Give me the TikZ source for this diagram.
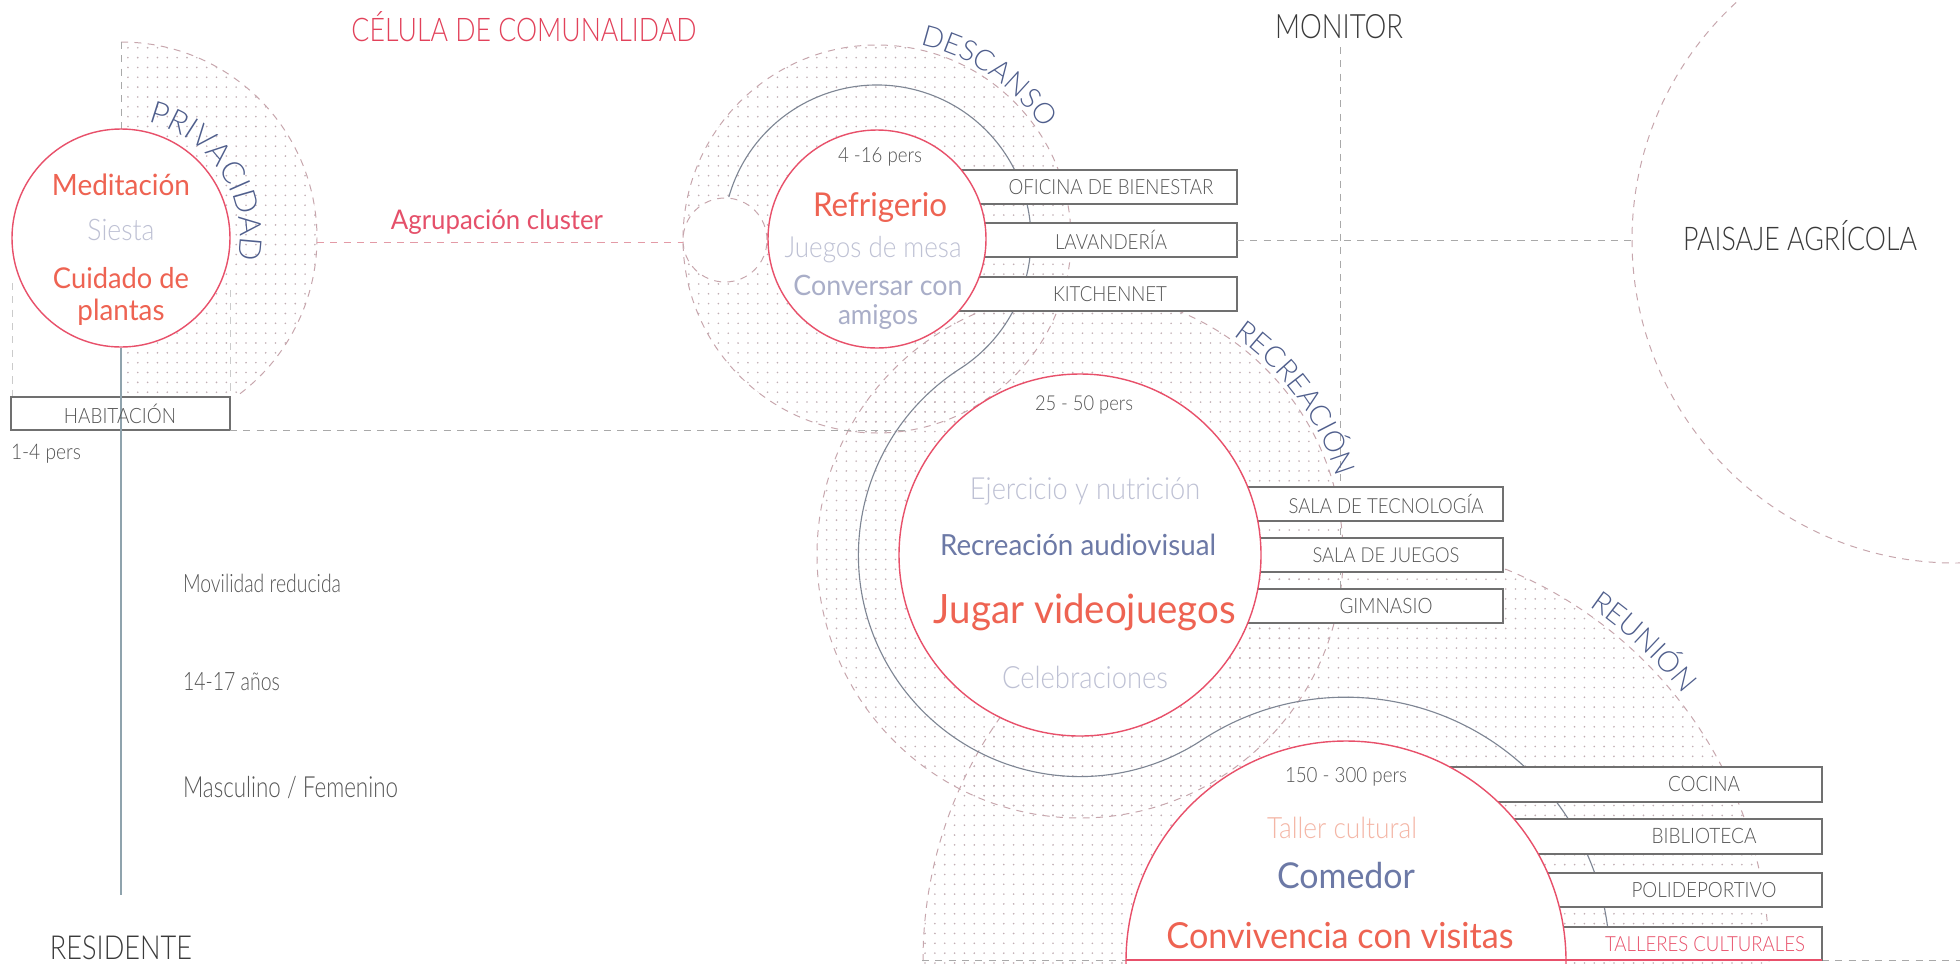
\documentclass[tikz,border=0pt]{standalone}
\usepackage{fontspec}
\setmainfont{Lato}
\newfontfamily\lightf{Lato Light}
\usetikzlibrary{patterns.meta,decorations.text}
\newlength\pxu
\setlength\pxu{0.25mm}
\newcommand\lt[2]{\scalebox{1}[1.12]{\resizebox{#1\pxu}{!}{\lightf #2}}}
\newcommand\ltb[2]{\scalebox{1}[1.22]{\resizebox{#1\pxu}{!}{\lightf #2}}}
\newcommand\ltt[2]{\scalebox{1}[1.3]{\resizebox{#1\pxu}{!}{\lightf #2}}}
\newcommand\rg[2]{\scalebox{1}[1.05]{\resizebox{#1\pxu}{!}{#2}}}
\newcommand\curvf{\lightf\fontsize{20.5pt}{24pt}\selectfont}
\newcommand\curvp{\lightf\fontsize{22pt}{26pt}\selectfont}
\definecolor{coral}{HTML}{EE6352}
\definecolor{titlered}{HTML}{E2415A}
\definecolor{agrup}{HTML}{E5506A}
\definecolor{redline}{HTML}{E8506A}
\definecolor{lav}{HTML}{BEC1D4}
\definecolor{lavd}{HTML}{A9AEC8}
\definecolor{slate}{HTML}{6C79A6}
\definecolor{labc}{HTML}{4F5E8C}
\definecolor{graytxt}{HTML}{555555}
\definecolor{darktxt}{HTML}{3A3A3A}
\definecolor{boxc}{HTML}{707070}
\definecolor{serpc}{HTML}{7E8694}
\definecolor{dashc}{HTML}{A9A9A9}
\definecolor{outerc}{HTML}{C7A6AD}
\definecolor{pinkd}{HTML}{E39AA6}
\definecolor{dotc}{HTML}{C2AFB5}
\definecolor{resc}{HTML}{8FA3AD}
\definecolor{taller}{HTML}{F4B6A6}
\begin{document}
\begin{tikzpicture}[x=0.25mm,y=0.25mm,
  txt/.style={inner sep=0pt,outer sep=0pt},
  dotfill/.style={pattern={Dots[distance=7pt,radius=0.65pt]},pattern color=dotc},
  outerdash/.style={draw=outerc,dash pattern=on 5pt off 4.5pt,line width=0.7pt},
  gdash/.style={draw=dashc,dash pattern=on 5pt off 4.5pt,line width=0.7pt},
  pdash/.style={draw=pinkd,dash pattern=on 5pt off 4.5pt,line width=0.7pt},
  serp/.style={draw=serpc,line width=0.8pt},
  roombox/.style={draw=boxc,fill=white,line width=0.8pt,inner sep=0pt,outer sep=0pt,anchor=north west},
  redcirc/.style={circle,draw=redline,fill=white,line width=1pt,inner sep=0pt},
  resline/.style={draw=resc,line width=0.9pt},
  curv/.style={decorate,decoration={text along path,text align=center,text color=labc}}
]
\useasboundingbox (0,0) rectangle (1960,-963);
\fill[white] (0,0) rectangle (1960,-963);
\begin{scope}
\clip (0,0) rectangle (1960,-963);
\coordinate (M) at (121,-238);
\coordinate (A) at (877,-239);
\coordinate (B) at (1080,-555);
\coordinate (C) at (1346,-961);
\coordinate (S) at (725,-240);
\coordinate (P) at (1955,-240);

% dotted zones
\fill[dotfill] (A) circle (194);
\fill[dotfill] (B) circle (263);
\fill[dotfill] (C) circle (423);
\begin{scope}
\clip (121,0) rectangle (400,-397);
\fill[dotfill] (M) circle (196);
\end{scope}
\fill[white] (S) circle (42);

% outer dashed circles
\draw[outerdash] (A) circle (194);
\draw[outerdash] (B) circle (263);
\draw[outerdash] (C) circle (423);
\draw[outerdash] (S) circle (42);
\draw[outerdash] (P) circle (323);
\draw[outerdash] (M) ++(90:196) arc[start angle=90,end angle=-54.2,radius=196];
\draw[gdash] (121,-42) -- (121,-129);
\draw[gdash,draw=dashc!60] (12,-283) -- (12,-397);
\draw[gdash,draw=dashc!60] (230,-290) -- (230,-397);

% serpentine
\draw[serp] (A) ++(164.2:154) arc[start angle=164.2,end angle=-57.28,radius=154]
  arc[start angle=122.72,end angle=303.23,radius=221.6]
  arc[start angle=123.23,end angle=0,radius=263.8];

% dashed connectors
\coordinate (privR) at (317,-242);
\coordinate (smallL) at (683,-242);
\draw[pdash] (privR) -- (smallL);
\coordinate (habEnd) at (905,-430);
\coordinate (monTop) at (1340,-47);
\coordinate (monBot) at (1340,-589);
\draw[gdash] (monTop) -- (monBot);
\coordinate (paisL) at (1632,-240);
\coordinate (b0) at (922,-960);
\coordinate (b1) at (1126,-960);
\coordinate (b2) at (1822,-960);
\coordinate (b3) at (1960,-960);
\draw[gdash] (b0) -- (b1);
\draw[gdash] (b2) -- (b3);

% boxes
\node[roombox,minimum width=219\pxu,minimum height=33\pxu] (habB) at (11,-397) {};
\draw[gdash] (habB.south east) -- (habEnd);
\node[roombox,minimum width=292\pxu,minimum height=34\pxu] (ofiB) at (945,-170) {};
\node[roombox,minimum width=292\pxu,minimum height=34\pxu] (lavB) at (945,-223) {};
\node[roombox,minimum width=292\pxu,minimum height=34\pxu] (kitB) at (945,-277) {};
\draw[gdash] (lavB.east) -- (paisL);
\node[roombox,minimum width=273\pxu,minimum height=34\pxu] (tecB) at (1230,-487) {};
\node[roombox,minimum width=273\pxu,minimum height=34\pxu] (jueB) at (1230,-538) {};
\node[roombox,minimum width=273\pxu,minimum height=34\pxu] (gimB) at (1230,-589) {};
\node[roombox,minimum width=392\pxu,minimum height=35\pxu] (cocB) at (1430,-767) {};
\node[roombox,minimum width=322\pxu,minimum height=35\pxu] (bibB) at (1500,-819) {};
\node[roombox,minimum width=287\pxu,minimum height=34\pxu] (polB) at (1535,-873) {};
\node[roombox,minimum width=267\pxu,minimum height=33\pxu] (talB) at (1555,-927) {};

% red circles
\node[redcirc,minimum size=218\pxu] (medC) at (M) {};
\node[redcirc,minimum size=218\pxu] (refC) at (A) {};
\node[redcirc,minimum size=362\pxu] (recC) at (B) {};
\node[redcirc,minimum size=440\pxu] (comC) at (C) {};
\draw[redline,line width=1pt] (b1) -- (b2);
\coordinate (resEnd) at (121,-895);
\draw[resline] (medC.south) -- (resEnd);

% curved labels
\path[curv,decoration={text={|\curvp|PRIVACIDAD}}] (M) ++(118:119) arc[start angle=118,end angle=-52,radius=119];
\path[curv,decoration={text={|\curvf|DESCANSO}}] (A) ++(109:199) arc[start angle=109,end angle=2,radius=199];
\path[curv,decoration={text={|\curvf|RECREACIÓN}}] (B) ++(91:268) arc[start angle=91,end angle=-19,radius=268];
\path[curv,decoration={text={|\curvf|REUNIÓN}}] (C) ++(87:430) arc[start angle=87,end angle=7,radius=430];
\end{scope}

% texts
\node[txt,text=titlered] (title) at (524,-27) {\ltb{345}{CÉLULA DE COMUNALIDAD}};
\node[txt,text=darktxt] (monitor) at (1339,-27) {\ltb{128}{MONITOR}};
\node[txt,text=darktxt] (paisaje) at (1800,-236) {\ltb{234}{PAISAJE AGRÍCOLA}};
\node[txt,text=darktxt] (residente) at (121,-948) {\ltb{142}{RESIDENTE}};
\node[txt,text=graytxt,anchor=west] (pers14) at (11,-454) {\lt{70}{1-4 pers}};
\node[txt,text=graytxt,anchor=west] (movil) at (183,-583) {\ltt{158}{Movilidad reducida}};
\node[txt,text=graytxt,anchor=west] (anos) at (183,-682) {\ltt{97}{14-17 años}};
\node[txt,text=graytxt,anchor=west] (masc) at (183,-788) {\ltt{215}{Masculino / Femenino}};
\node[txt,text=graytxt] (habT) at (120,-414) {\lt{112}{HABITACIÓN}};
\node[txt,text=agrup] (agrupT) at (497,-222) {\rg{212}{Agrupación cluster}};

\node[txt,text=coral] (med1) at (121,-185) {\rg{138}{Meditación}};
\node[txt,text=lav] (med2) at (121,-230) {\lt{67}{Siesta}};
\node[txt,text=coral] (med3) at (121,-278) {\rg{136}{Cuidado de}};
\node[txt,text=coral] (med4) at (121,-312) {\rg{87}{plantas}};

\node[txt,text=graytxt] (ref0) at (880,-157) {\lt{84}{4 -16 pers}};
\node[txt,text=coral] (ref1) at (880,-208) {\rg{134}{Refrigerio}};
\node[txt,text=lav] (ref2) at (873,-250) {\lt{177}{Juegos de mesa}};
\node[txt,text=lavd] (ref3) at (878,-285) {\rg{169}{Conversar con}};
\node[txt,text=lavd] (ref4) at (878,-317) {\rg{80}{amigos}};

\node[txt,text=graytxt] (rec0) at (1084,-405) {\lt{98}{25 - 50 pers}};
\node[txt,text=lav] (rec1) at (1085,-491) {\lt{230}{Ejercicio y nutrición}};
\node[txt,text=slate] (rec2) at (1078,-545) {\rg{276}{Recreación audiovisual}};
\node[txt,text=coral] (rec3) at (1085,-612) {\rg{302}{Jugar videojuegos}};
\node[txt,text=lav] (rec4) at (1085,-677) {\lt{166}{Celebraciones}};

\node[txt,text=graytxt] (com0) at (1346,-777) {\lt{122}{150 - 300 pers}};
\node[txt,text=taller] (com1) at (1342,-828) {\lt{150}{Taller cultural}};
\node[txt,text=slate] (com2) at (1346,-876) {\rg{138}{Comedor}};
\node[txt,text=coral] (com3) at (1340,-936) {\rg{347}{Convivencia con visitas}};

\node[txt,text=graytxt] (ofiT) at (1111,-187) {\lt{205}{OFICINA DE BIENESTAR}};
\node[txt,text=graytxt] (lavT) at (1111,-240) {\lt{112}{LAVANDERÍA}};
\node[txt,text=graytxt] (kitT) at (1110,-294) {\lt{114}{KITCHENNET}};
\node[txt,text=graytxt] (tecT) at (1386,-504) {\lt{195}{SALA DE TECNOLOGÍA}};
\node[txt,text=graytxt] (jueT) at (1386,-555) {\lt{147}{SALA DE JUEGOS}};
\node[txt,text=graytxt] (gimT) at (1386,-606) {\lt{93}{GIMNASIO}};
\node[txt,text=graytxt] (cocT) at (1704,-784) {\lt{72}{COCINA}};
\node[txt,text=graytxt] (bibT) at (1704,-836) {\lt{105}{BIBLIOTECA}};
\node[txt,text=graytxt] (polT) at (1704,-890) {\lt{145}{POLIDEPORTIVO}};
\node[txt,text=redline] (talT) at (1705,-944) {\lt{200}{TALLERES CULTURALES}};
\end{tikzpicture}
\end{document}
